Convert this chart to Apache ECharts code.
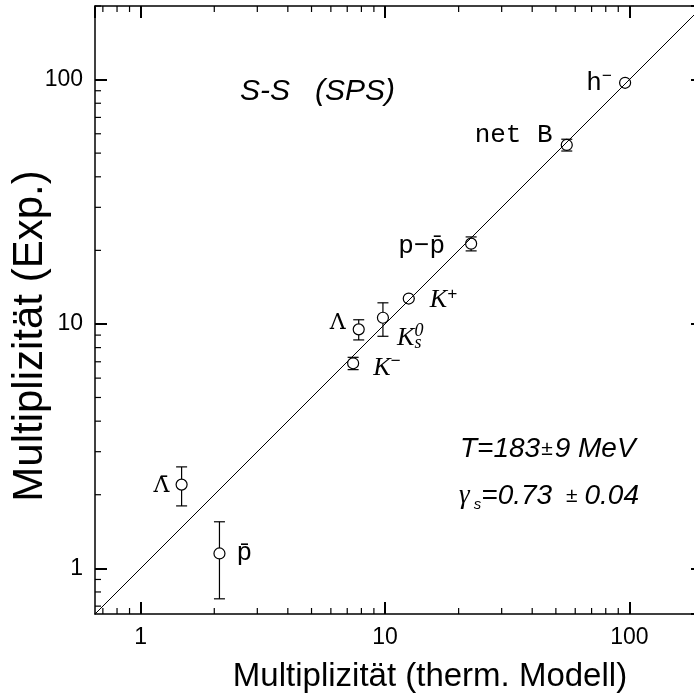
<!DOCTYPE html>
<html><head><meta charset="utf-8">
<script src="https://cdn.jsdelivr.net/npm/echarts@6/dist/echarts.min.js"></script>
<style>html,body{margin:0;padding:0;background:#fff}#c{width:694px;height:700px}</style>
</head><body><div id="c"></div>
<script>
// ---- data ----
const particles = ['h-', 'net B', 'p-pbar', 'K+', 'K0s', 'Lambda', 'K-', 'Lambdabar', 'pbar'];
const modelValues = [96, 55.4, 22.5, 12.5, 9.8, 7.8, 7.4, 1.47, 2.1];
const expValues   = [97, 54, 21.3, 12.7, 10.6, 9.5, 6.9, 2.2, 1.15];
const expLow      = [97, 51, 19.9, 12.7, 8.9, 8.6, 6.5, 1.8, 0.75];
const expHigh     = [97, 57, 22.7, 12.7, 12.2, 10.4, 7.3, 2.6, 1.55];
const axisRange   = [0.65, 200];
const majorTicks  = [1, 10, 100];
const minorTicks  = [0.7, 0.8, 0.9, 2, 3, 4, 5, 6, 7, 8, 9, 20, 30, 40, 50, 60, 70, 80, 90, 200];
const diagonal    = [0.65, 200];

// ---- styling ----
const MONO = '"Liberation Mono", "DejaVu Sans Mono", monospace';
const SANS = '"Liberation Sans", Arial, sans-serif';
const SERIF = '"Liberation Serif", serif';
const rich = {
  m:   {fontFamily: MONO, fontSize: 26, color: '#000', lineHeight: 30},
  k:   {fontFamily: SERIF, fontStyle: 'italic', fontSize: 26, color: '#000', lineHeight: 30},
  g:   {fontFamily: '"DejaVu Serif", serif', fontSize: 22, color: '#000', lineHeight: 30},
  sup: {fontFamily: MONO, fontSize: 17, color: '#000', verticalAlign: 'top', lineHeight: 17},
  supk:{fontFamily: SERIF, fontStyle: 'italic', fontSize: 18, color: '#000', verticalAlign: 'top', lineHeight: 17},
  subb:{fontFamily: SERIF, fontStyle: 'italic', fontSize: 18, color: '#000', verticalAlign: 'bottom', lineHeight: 17, padding: [0,0,0,-9]}
};
const labelCfg = [
  {formatter: '{m|h}{sup|\u2212}', position: 'left', distance: 7, offset: [0, 0]},
  {formatter: '{m|net B}', position: 'left', distance: 8, offset: [0, -10]},
  {formatter: '{m|p\u2212p\u0304}', position: 'left', distance: 20, offset: [0, 2]},
  {formatter: '{k|K}{sup|+}', position: 'right', distance: 15, offset: [0, 2]},
  {formatter: '{k|K}{supk|0}{subb|s}', position: 'right', distance: 8, offset: [0, 20]},
  {formatter: '{g|\u039B}', position: 'left', distance: 7, offset: [0, -6]},
  {formatter: '{k|K}{sup|\u2212}', position: 'right', distance: 14, offset: [0, 5]},
  {formatter: '{g|\u039B\u0304}', position: 'left', distance: 6, offset: [0, 2]},
  {formatter: '{m|p\u0304}', position: 'right', distance: 11, offset: [0, 0]}
];

function logAxis(pos, showLabel, extra) {
  return Object.assign({
    type: 'log', logBase: 10, position: pos, min: axisRange[0], max: axisRange[1],
    axisLine: {show: true, onZero: false, lineStyle: {color: '#000', width: 1.5}},
    axisTick: {show: true, inside: true, length: 12, lineStyle: {color: '#000', width: 2}},
    axisLabel: showLabel ? {show: true, color: '#000', fontFamily: SANS, fontSize: 23, margin: 12,
      showMinLabel: false, showMaxLabel: false,
      formatter: v => (majorTicks.indexOf(Math.round(v)) >= 0 ? String(Math.round(v)) : '')} : {show: false},
    splitLine: {show: false}, minorTick: {show: false}, offset: 0
  }, extra || {});
}

const tickStyle = {stroke: '#000', lineWidth: 1.2};

const chart = echarts.init(document.getElementById('c'), null, {renderer: 'canvas'});
const option = {
  backgroundColor: '#fff',
  animation: false,
  grid: {left: 95, top: 6, width: 608, height: 608, containLabel: false, outerBoundsMode: 'none'},
  xAxis: [
    logAxis('bottom', true, {
      name: 'Multiplizit\u00e4t (therm. Modell)', nameLocation: 'middle', nameGap: 46, nameMoveOverlap: false,
      nameTextStyle: {fontFamily: SANS, fontSize: 33, color: '#000', padding: [0, 0, 0, 62]}
    }),
    logAxis('top', false)
  ],
  yAxis: [
    logAxis('left', true, {
      name: 'Multiplizit\u00e4t (Exp.)', nameLocation: 'middle', nameGap: 44, nameMoveOverlap: false,
      nameTextStyle: {fontFamily: SANS, fontSize: 42, color: '#000', padding: [0, 52, 0, 0]}
    }),
    logAxis('right', false)
  ],
  series: [
    {
      type: 'custom', xAxisIndex: 0, yAxisIndex: 0, z: 2, silent: true,
      data: modelValues.map((x, i) => [x, expLow[i], expHigh[i]]),
      encode: {x: 0, y: [1, 2]},
      renderItem: function (params, api) {
        const x = api.value(0);
        const pLo = api.coord([x, api.value(1)]);
        const pHi = api.coord([x, api.value(2)]);
        const w = 5.5, st = {stroke: '#000', lineWidth: 1.2};
        return {type: 'group', children: [
          {type: 'line', shape: {x1: pLo[0], y1: pLo[1], x2: pHi[0], y2: pHi[1]}, style: st},
          {type: 'line', shape: {x1: pLo[0] - w, y1: pLo[1], x2: pLo[0] + w, y2: pLo[1]}, style: st},
          {type: 'line', shape: {x1: pHi[0] - w, y1: pHi[1], x2: pHi[0] + w, y2: pHi[1]}, style: st}
        ]};
      }
    },
    {
      type: 'scatter', xAxisIndex: 0, yAxisIndex: 0, z: 3, symbol: 'circle', symbolSize: 11,
      itemStyle: {color: '#fff', borderColor: '#000', borderWidth: 1.2, opacity: 1},
      data: modelValues.map((x, i) => ({
        name: particles[i], value: [x, expValues[i]],
        label: Object.assign({show: true, rich: rich}, labelCfg[i])
      }))
    },
    {
      type: 'line', xAxisIndex: 0, yAxisIndex: 0, z: 4, symbol: 'none', silent: true,
      lineStyle: {color: '#000', width: 1},
      data: diagonal.map(v => [v, v])
    },
    // minor ticks on x (bottom + top), placed through the log scale
    {
      type: 'custom', xAxisIndex: 0, yAxisIndex: 0, z: 5, silent: true, clip: false,
      data: minorTicks.map(v => [v, axisRange[0]]),
      encode: {x: 0, y: 1},
      renderItem: function (params, api) {
        const v = api.value(0);
        const b = api.coord([v, axisRange[0]]), t = api.coord([v, axisRange[1]]);
        return {type: 'group', children: [
          {type: 'line', shape: {x1: b[0], y1: b[1], x2: b[0], y2: b[1] - 6}, style: tickStyle},
          {type: 'line', shape: {x1: t[0], y1: t[1], x2: t[0], y2: t[1] + 6}, style: tickStyle}
        ]};
      }
    },
    // minor ticks on y (left + right)
    {
      type: 'custom', xAxisIndex: 0, yAxisIndex: 0, z: 5, silent: true, clip: false,
      data: minorTicks.map(v => [axisRange[0], v]),
      encode: {x: 0, y: 1},
      renderItem: function (params, api) {
        const v = api.value(1);
        const l = api.coord([axisRange[0], v]), r = api.coord([axisRange[1], v]);
        return {type: 'group', children: [
          {type: 'line', shape: {x1: l[0], y1: l[1], x2: l[0] + 6, y2: l[1]}, style: tickStyle},
          {type: 'line', shape: {x1: r[0], y1: r[1], x2: r[0] - 6, y2: r[1]}, style: tickStyle}
        ]};
      }
    }
  ],
  graphic: [
    {type: 'text', x: 240, y: 92, style: {text: 'S-S   (SPS)', font: 'italic 30px ' + SANS, fill: '#000', verticalAlign: 'middle'}},
    {type: 'text', x: 460, y: 449, style: {
      text: '{i|T=183}{pm|\u00b1}{i|9 MeV}', verticalAlign: 'middle',
      rich: {i: {font: 'italic 28px ' + SANS, fill: '#000', lineHeight: 32}, pm: {font: '21px ' + SANS, fill: '#000', padding: [0, 2, 0, 1], lineHeight: 32}}
    }},
    {type: 'text', x: 459, y: 496, style: {
      text: '{g|\u03b3}{s| s}{i|=0.73 }{pm|\u00b1}{i|0.04}', verticalAlign: 'middle',
      rich: {
        g: {font: 'italic 27px "Liberation Serif", serif', fill: '#000', lineHeight: 32},
        s: {font: 'italic 15px ' + SANS, fill: '#000', verticalAlign: 'bottom', lineHeight: 12},
        i: {font: 'italic 28px ' + SANS, fill: '#000', lineHeight: 32},
        pm: {font: '21px ' + SANS, fill: '#000', padding: [0, 7, 0, 6], lineHeight: 32}
      }
    }}
  ]
};
chart.setOption(option);
</script>
</body></html>
